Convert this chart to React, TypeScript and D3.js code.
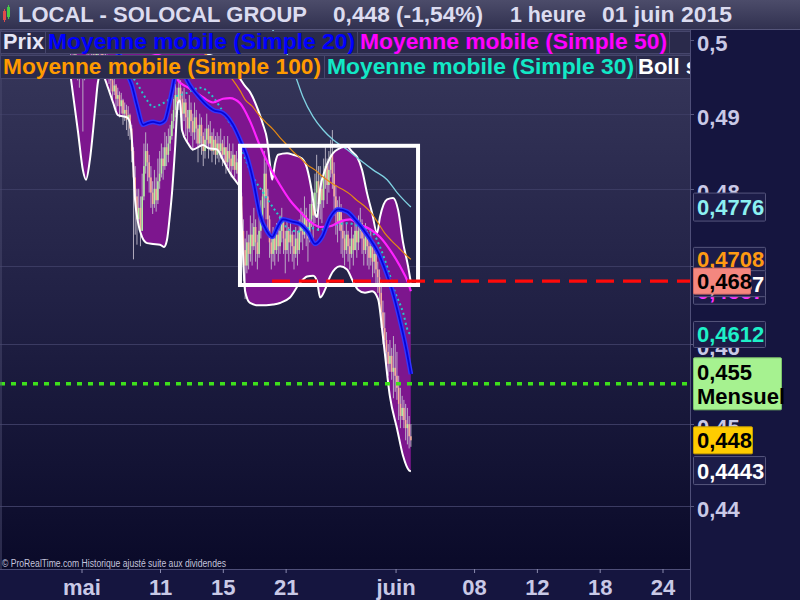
import React from "react";
import * as d3 from "d3";

// ---------------- data ----------------
// x is measured in trading days, 0 = first hourly bar of Monday 4 May 2015
const xTickDays = [0, 5, 9, 13, 20, 25, 29, 33, 37];
const xTickLabels = ["mai", "11", "15", "21", "juin", "08", "12", "18", "24"];
const yTickValues = [0.44, 0.45, 0.46, 0.47, 0.48, 0.49, 0.5];
const yTickLabels = ["0,44", "0,45", "0,46", "0,47", "0,48", "0,49", "0,5"];

const barsPerDay = 9;
const barsBeforeMay4 = 7;
const firstOpen = 0.4978;

// hourly bars, 30 April 11h -> 1 June 17h
const closes = [
  0.4975, 0.4968, 0.4980, 0.4972, 0.4960, 0.4955, 0.4965,
  0.4958, 0.4962, 0.4970, 0.4975, 0.4968, 0.4972, 0.4980, 0.4976, 0.4985,
  0.4982, 0.4990, 0.4978, 0.4970, 0.4975, 0.4965, 0.4955,
  0.4945, 0.4930, 0.4938, 0.4920, 0.4925, 0.4910, 0.4918, 0.4900, 0.4905, 0.4892, 0.4898,
  0.4880, 0.4850, 0.4815,
  0.4790, 0.4760, 0.4775, 0.4745, 0.4790,
  0.4830, 0.4850, 0.4835, 0.4815,
  0.4795, 0.4780, 0.4800, 0.4785, 0.4810, 0.4820,
  0.4840, 0.4830, 0.4855, 0.4845, 0.4860, 0.4870,
  0.4890, 0.4905, 0.4925, 0.4915, 0.4935,
  0.4920, 0.4900, 0.4915, 0.4895, 0.4880, 0.4905, 0.4890,
  0.4875, 0.4895, 0.4880, 0.4860, 0.4885, 0.4870, 0.4850, 0.4865,
  0.4880, 0.4860, 0.4870, 0.4850, 0.4865, 0.4845, 0.4860, 0.4850,
  0.4860, 0.4845, 0.4855, 0.4835, 0.4850, 0.4840, 0.4830, 0.4845, 0.4825, 0.4835, 0.4820,
  0.4790, 0.4745, 0.4720, 0.4700, 0.4730, 0.4715,
  0.4740, 0.4725, 0.4750, 0.4730, 0.4715, 0.4745, 0.4760,
  0.4790, 0.4820, 0.4790, 0.4760,
  0.4730, 0.4715, 0.4735, 0.4720, 0.4740, 0.4725,
  0.4745, 0.4760, 0.4735, 0.4720, 0.4745, 0.4730,
  0.4740, 0.4725, 0.4715, 0.4735, 0.4720, 0.4745,
  0.4755, 0.4740, 0.4765, 0.4750, 0.4735, 0.4760,
  0.4780, 0.4765, 0.4795, 0.4810, 0.4780,
  0.4800, 0.4785, 0.4815, 0.4830, 0.4805, 0.4825,
  0.4845, 0.4820, 0.4790,
  0.4770, 0.4755, 0.4775, 0.4745, 0.4735,
  0.4720, 0.4740, 0.4725, 0.4715, 0.4735, 0.4720, 0.4745, 0.4730,
  0.4745, 0.4755, 0.4735, 0.4720, 0.4740, 0.4725, 0.4710,
  0.4725, 0.4705, 0.4715, 0.4695, 0.4685,
  0.4665, 0.4640, 0.4620, 0.4605,
  0.4590, 0.4575, 0.4585, 0.4565,
  0.4570, 0.4560, 0.4545,
  0.4525, 0.4510, 0.4520, 0.4505,
  0.4495, 0.4500, 0.4485, 0.4480,
];

const highs = [
  0.4985, 0.4980, 0.4990, 0.4982, 0.4975, 0.4968, 0.4975,
  0.4970, 0.4975, 0.4980, 0.4985, 0.4980, 0.4985, 0.4990, 0.4988, 0.4995,
  0.4995, 0.5000, 0.4995, 0.4985, 0.4985, 0.4980, 0.4970,
  0.4960, 0.4950, 0.4948, 0.4940, 0.4935, 0.4930, 0.4928, 0.4920, 0.4915, 0.4912, 0.4910,
  0.4900, 0.4885, 0.4855,
  0.4830, 0.4800, 0.4800, 0.4790, 0.4820,
  0.4860, 0.4875, 0.4860, 0.4845,
  0.4830, 0.4810, 0.4825, 0.4815, 0.4840, 0.4850,
  0.4860, 0.4855, 0.4875, 0.4870, 0.4880, 0.4885,
  0.4900, 0.4920, 0.4940, 0.4935, 0.4950,
  0.4945, 0.4930, 0.4935, 0.4920, 0.4905, 0.4925, 0.4915,
  0.4900, 0.4915, 0.4905, 0.4885, 0.4900, 0.4895, 0.4875, 0.4880,
  0.4900, 0.4885, 0.4890, 0.4875, 0.4880, 0.4870, 0.4875, 0.4870,
  0.4880, 0.4865, 0.4870, 0.4855, 0.4870, 0.4860, 0.4850, 0.4860, 0.4845, 0.4850, 0.4840,
  0.4825, 0.4795, 0.4760, 0.4735, 0.4745, 0.4740,
  0.4765, 0.4755, 0.4775, 0.4760, 0.4740, 0.4770, 0.4785,
  0.4800, 0.4850, 0.4835, 0.4800,
  0.4765, 0.4740, 0.4750, 0.4745, 0.4755, 0.4750,
  0.4765, 0.4775, 0.4760, 0.4745, 0.4760, 0.4750,
  0.4755, 0.4745, 0.4740, 0.4750, 0.4745, 0.4760,
  0.4775, 0.4770, 0.4790, 0.4775, 0.4760, 0.4780,
  0.4800, 0.4795, 0.4820, 0.4845, 0.4830,
  0.4830, 0.4815, 0.4840, 0.4855, 0.4840, 0.4850,
  0.4865, 0.4878, 0.4835,
  0.4805, 0.4785, 0.4790, 0.4780, 0.4760,
  0.4745, 0.4755, 0.4745, 0.4735, 0.4750, 0.4740, 0.4760, 0.4755,
  0.4765, 0.4775, 0.4760, 0.4745, 0.4755, 0.4745, 0.4735,
  0.4745, 0.4730, 0.4730, 0.4720, 0.4705,
  0.4695, 0.4680, 0.4655, 0.4640,
  0.4615, 0.4600, 0.4605, 0.4595,
  0.4610, 0.4600, 0.4590,
  0.4560, 0.4545, 0.4535, 0.4530,
  0.4525, 0.4520, 0.4510, 0.4500,
];

const lows = [
  0.4962, 0.4955, 0.4965, 0.4955, 0.4945, 0.4935, 0.4950,
  0.4876, 0.4945, 0.4955, 0.4962, 0.4958, 0.4960, 0.4968, 0.4965, 0.4972,
  0.4975, 0.4980, 0.4970, 0.4960, 0.4965, 0.4950, 0.4940,
  0.4930, 0.4918, 0.4925, 0.4905, 0.4910, 0.4895, 0.4900, 0.4885, 0.4890, 0.4878, 0.4870,
  0.4865, 0.4835, 0.4708,
  0.4740, 0.4727, 0.4750, 0.4725, 0.4760,
  0.4785, 0.4820, 0.4810, 0.4795,
  0.4775, 0.4767, 0.4775, 0.4770, 0.4780, 0.4800,
  0.4815, 0.4812, 0.4825, 0.4830, 0.4835, 0.4850,
  0.4865, 0.4880, 0.4895, 0.4900, 0.4905,
  0.4895, 0.4875, 0.4890, 0.4870, 0.4860, 0.4875, 0.4870,
  0.4850, 0.4865, 0.4860, 0.4835, 0.4855, 0.4845, 0.4830, 0.4840,
  0.4855, 0.4840, 0.4850, 0.4835, 0.4845, 0.4832, 0.4840, 0.4835,
  0.4840, 0.4830, 0.4835, 0.4820, 0.4830, 0.4825, 0.4815, 0.4825, 0.4815, 0.4820, 0.4810,
  0.4770, 0.4700, 0.4680, 0.4657, 0.4690, 0.4695,
  0.4705, 0.4700, 0.4720, 0.4705, 0.4695, 0.4710, 0.4735,
  0.4750, 0.4775, 0.4760, 0.4745,
  0.4710, 0.4695, 0.4705, 0.4700, 0.4715, 0.4705,
  0.4715, 0.4730, 0.4715, 0.4690, 0.4715, 0.4705,
  0.4715, 0.4705, 0.4695, 0.4710, 0.4700, 0.4715,
  0.4730, 0.4720, 0.4735, 0.4725, 0.4705, 0.4730,
  0.4750, 0.4735, 0.4755, 0.4770, 0.4745,
  0.4760, 0.4755, 0.4775, 0.4800, 0.4780, 0.4795,
  0.4815, 0.4800, 0.4765,
  0.4740, 0.4730, 0.4745, 0.4715, 0.4710,
  0.4700, 0.4715, 0.4705, 0.4695, 0.4710, 0.4700, 0.4720, 0.4710,
  0.4720, 0.4735, 0.4715, 0.4700, 0.4715, 0.4700, 0.4695,
  0.4700, 0.4685, 0.4690, 0.4675, 0.4665,
  0.4650, 0.4620, 0.4600, 0.4590,
  0.4570, 0.4560, 0.4565, 0.4555,
  0.4532, 0.4540, 0.4530,
  0.4505, 0.4495, 0.4505, 0.4495,
  0.4480, 0.4475, 0.4470, 0.4472,
];

// indicator lines: [bar index, value]
const upperBand = [
  [0, 0.4984], [11, 0.4998], [22.5, 0.4984], [34, 0.5005], [45.5, 0.501], [60, 0.4998],
  [74, 0.4984], [88.5, 0.497], [96, 0.4951], [100, 0.4937], [102.8, 0.4929], [107.4, 0.4905],
  [110.3, 0.4885], [112.6, 0.4865], [114.3, 0.4831], [115.5, 0.4812], [117.2, 0.4834],
  [118.9, 0.4845], [124, 0.4847], [127.5, 0.4845], [132.6, 0.484], [135.5, 0.4827],
  [138.4, 0.4794], [140.1, 0.4768], [141.2, 0.4763], [142.9, 0.4799], [145.8, 0.4825],
  [148.7, 0.4841], [151.6, 0.485], [158.4, 0.4856], [161.3, 0.4849], [164.2, 0.4842],
  [167, 0.4825], [169.9, 0.4794], [172.8, 0.4768], [175.6, 0.4742], [177.3, 0.4763],
  [181.4, 0.4786], [184.8, 0.4788], [187.7, 0.4772], [190.5, 0.473], [193.4, 0.4699], [195, 0.4678],
];
const lowerBand = [
  [0, 0.495], [4.2, 0.4876], [7, 0.4825], [8.8, 0.4812], [11, 0.4838], [14, 0.4905],
  [15.6, 0.4942], [17.4, 0.4955], [19, 0.495], [21.4, 0.4935], [24.3, 0.4915], [27.1, 0.4898],
  [32.3, 0.4895], [34, 0.4888], [35.1, 0.4865], [36.9, 0.4786], [38.6, 0.4756], [40.9, 0.4737],
  [43.8, 0.4729], [47.2, 0.4728], [51.2, 0.4727], [53.5, 0.4724], [55.2, 0.4733], [56.9, 0.4766],
  [58.1, 0.4795], [59.8, 0.4852], [61.5, 0.4915], [62.7, 0.4918], [63.8, 0.4878], [67.3, 0.486],
  [70.1, 0.4852], [75.9, 0.4858], [78.7, 0.4854], [83.9, 0.4852], [87.3, 0.4838], [91.3, 0.4821],
  [95.3, 0.4808], [97.1, 0.4802], [98.2, 0.4746], [100, 0.4667], [102.8, 0.4652], [107.4, 0.4649],
  [112, 0.4649], [116, 0.465], [120, 0.4652], [125.7, 0.4659], [131.5, 0.4678], [135.5, 0.4686],
  [139, 0.4687], [141.2, 0.468], [143, 0.4659], [145.8, 0.4669], [148.7, 0.4686], [154.4, 0.4699],
  [158.4, 0.4695], [161.3, 0.4682], [164.7, 0.4669], [168.7, 0.4665], [172.8, 0.4667],
  [176.2, 0.4657], [179, 0.4609], [183, 0.4534], [187.1, 0.4494], [190.5, 0.4461], [194, 0.4443], [195, 0.4442],
];
const sma20 = [
  [0, 0.4986], [16.8, 0.4993], [28.3, 0.4979], [32.9, 0.4951], [35.1, 0.4938], [38, 0.4911],
  [41.5, 0.4885], [43.8, 0.4887], [47.2, 0.4889], [51.2, 0.4887], [54.1, 0.4891], [55.8, 0.4905],
  [58.1, 0.4931], [60.4, 0.4955], [63.8, 0.496], [66.7, 0.4945], [74.1, 0.4921], [81.6, 0.4905],
  [87.3, 0.4901], [93, 0.4885], [97.1, 0.4865], [101.1, 0.4842], [104.5, 0.4812], [108.5, 0.4766],
  [112.6, 0.4744], [115.5, 0.4737], [118.4, 0.4749], [121.7, 0.476], [126.9, 0.4757], [131.5, 0.4754],
  [136.1, 0.4743], [140.1, 0.4728], [144.1, 0.4737], [148.7, 0.4762], [153.3, 0.4773], [158.4, 0.477],
  [163, 0.476], [167.6, 0.4747], [172.8, 0.473], [176.2, 0.4717], [180.2, 0.4695], [184.2, 0.4669],
  [188.8, 0.4629], [192.3, 0.4594], [195, 0.4562],
];
const sma50 = [
  [40, 0.4985], [57, 0.4972], [61.5, 0.4945], [66.7, 0.4936], [74.1, 0.4925], [81.6, 0.4915],
  [87.3, 0.492], [91.3, 0.4921], [97.1, 0.4914], [102.8, 0.489], [108.5, 0.4857], [114.3, 0.4828],
  [120, 0.4805], [125.7, 0.4785], [131.5, 0.477], [137.3, 0.4757], [143, 0.475], [148.7, 0.4751],
  [154.4, 0.4757], [160.1, 0.476], [165.9, 0.4753], [171.6, 0.4747], [177.3, 0.4737], [183.1, 0.472],
  [188.8, 0.4699], [193.4, 0.4678], [195, 0.4667],
];
const sma100 = [
  [74.1, 0.4986], [88.5, 0.4958], [93.1, 0.4945], [97.1, 0.4931], [100, 0.4919], [104, 0.491],
  [108, 0.4898], [112, 0.4888], [116, 0.4879], [120, 0.4868], [124, 0.4858], [128, 0.4848],
  [132, 0.484], [136, 0.4831], [140, 0.4825], [144, 0.4817], [148, 0.481], [152, 0.4804],
  [156, 0.4799], [160, 0.4793], [164, 0.4785], [168, 0.4778], [172, 0.4769], [176, 0.4756],
  [180, 0.4742], [184, 0.4732], [188, 0.4723], [192, 0.4714], [195, 0.4708],
];
const sma30 = [
  [30, 0.497], [32.9, 0.4958], [38, 0.4941], [43.8, 0.4918], [47.2, 0.4909], [52.9, 0.4914],
  [58.7, 0.4922], [65.5, 0.4927], [69.5, 0.4931], [74.1, 0.4935], [79.9, 0.4927], [85.6, 0.4909],
  [91.3, 0.4887], [95.3, 0.4874], [98.8, 0.4848], [104.5, 0.4816], [110.3, 0.4795], [118.3, 0.4768],
  [125.7, 0.4746], [131.5, 0.4744], [137.3, 0.4749], [143, 0.4746], [148.7, 0.4751], [158.4, 0.4755],
  [165.9, 0.475], [173.3, 0.4742], [177.3, 0.4724], [181.9, 0.4695], [185.9, 0.4666], [190.5, 0.464],
  [193.4, 0.4616], [195, 0.4612],
];
const longAverage = [
  [110, 0.503], [120, 0.4999], [125.7, 0.4972], [129.7, 0.4945], [133.2, 0.4922], [138.9, 0.4896],
  [144.7, 0.4878], [150.4, 0.4865], [158.4, 0.4852], [165.9, 0.4838], [173.3, 0.4825],
  [181.4, 0.4812], [187.1, 0.4795], [195, 0.4776],
];

const supportLevel = 0.468;
const supportFromDay = 12.1;
const monthlyPivot = 0.455;
const zoneFromDay = 10.06;
const zoneToDay = 21.4;
const zoneTop = 0.4857;
const zoneBottom = 0.4675;

const tagValues = [0.4776, 0.4708, 0.4667, 0.4687, 0.468, 0.4612, 0.455, 0.448, 0.4443];
const tagTexts = [["0,4776"], ["0,4708"], ["0,4667"], ["0,4687"], ["0,468"], ["0,4612"], ["0,455", "Mensuel"], ["0,448"], ["0,4443"]];

// ---------------- drawing ----------------
const W = 800;
const H = 600;
const PL = 0, PR = 690, PT = 30, PB = 569;
const FONT = "'Liberation Sans', Arial, Helvetica, sans-serif";

const tagStyles = [
  { fg: "#8cf0f2", bg: "#1c1c48", bd: "#55557c", w: 72, h: 28, dy: 0 },
  { fg: "#ff9a12", bg: "#1c1c48", bd: "#55557c", w: 72, h: 24, dy: 0 },
  { fg: "#ff33ff", bg: "#1c1c48", bd: "#55557c", w: 72, h: 26, dy: 0 },
  { fg: "#ffffff", bg: "#1c1c48", bd: "#55557c", w: 72, h: 26, dy: 8 },
  { fg: "#000000", bg: "#f4877f", bd: "#d06a64", w: 57, h: 26, dy: 0 },
  { fg: "#1ef0c8", bg: "#1c1c48", bd: "#55557c", w: 72, h: 26, dy: 0 },
  { fg: "#000000", bg: "#a6f290", bd: "#7cc46a", w: 88, h: 52, dy: 0 },
  { fg: "#000000", bg: "#ffcc00", bd: "#c9a000", w: 59, h: 27, dy: 0 },
  { fg: "#ffffff", bg: "#1c1c48", bd: "#55557c", w: 72, h: 28, dy: 0 },
];

export default function App() {
  const x = d3.scaleLinear().domain([0, 37]).range([82, 663]);
  const y = d3.scaleLog().domain([0.44, 0.5]).range([506, 40]);
  const barDay = (b: number) => (b - barsBeforeMay4 + 0.5) / barsPerDay;
  const bx = (b: number) => x(barDay(b));
  const step = bx(1) - bx(0);
  const curve = d3.curveMonotoneX;

  const line = d3.line<number[]>().x((d) => bx(d[0])).y((d) => y(d[1])).curve(curve);
  const aboveLower = d3.area<number[]>().x((d) => bx(d[0])).y0(0).y1((d) => y(d[1])).curve(curve);
  const belowUpper = d3.area<number[]>().x((d) => bx(d[0])).y0((d) => y(d[1])).y1(H).curve(curve);

  const candles = closes.map((c, i) => {
    const o = i === 0 ? firstOpen : closes[i - 1];
    const h = Math.max(highs[i] ?? c, o, c);
    const l = Math.min(lows[i] ?? c, o, c);
    return { i, o, c, h, l };
  });

  const bodyW = step * 0.9;

  return (
    <svg width={W} height={H} style={{ position: "absolute", left: 0, top: 0, display: "block" }}>
      <defs>
        <linearGradient id="bgGrad" x1="0" y1="0" x2="0" y2="1">
          <stop offset="0%" stopColor="#38385c" />
          <stop offset="50%" stopColor="#212145" />
          <stop offset="100%" stopColor="#0a0a29" />
        </linearGradient>
        <linearGradient id="hdrGrad" x1="0" y1="0" x2="0" y2="1">
          <stop offset="0%" stopColor="#4c4c6a" />
          <stop offset="100%" stopColor="#30304f" />
        </linearGradient>
        <clipPath id="plotClip">
          <rect x={PL} y={PT} width={PR - PL} height={PB - PT} />
        </clipPath>
        <clipPath id="bandClip">
          <path d={aboveLower(lowerBand) || ""} />
        </clipPath>
      </defs>

      {/* panels */}
      <rect x={0} y={0} width={W} height={H} fill="#15153f" />
      <rect x={PL} y={PT} width={PR - PL} height={PB - PT} fill="url(#bgGrad)" />

      {/* horizontal grid */}
      {yTickValues.map((v) => (
        <line key={v} x1={PL} x2={PR + 4} y1={Math.round(y(v)) + 0.5} y2={Math.round(y(v)) + 0.5} stroke="#3b3b62" strokeWidth={1} />
      ))}

      <g clipPath="url(#plotClip)">
        {/* Bollinger fill */}
        <g clipPath="url(#bandClip)">
          <path d={belowUpper(upperBand) || ""} fill="#7d168e" />
        </g>

        {/* candles */}
        {candles.map((d) => (
          <line key={"w" + d.i} x1={bx(d.i)} x2={bx(d.i)} y1={y(d.h)} y2={y(d.l)} stroke="#c2bccb" strokeWidth={1} opacity={0.9} />
        ))}
        {candles.map((d) => {
          const top = y(Math.max(d.o, d.c));
          const bot = y(Math.min(d.o, d.c));
          return (
            <rect
              key={"b" + d.i}
              x={bx(d.i) - bodyW / 2}
              y={top}
              width={bodyW}
              height={Math.max(1.5, bot - top)}
              fill={d.c >= d.o ? "#b2f0a2" : "#f5ae9c"}
            />
          );
        })}

        {/* band edges */}
        <path d={line(upperBand) || ""} fill="none" stroke="#ffffff" strokeWidth={2} />
        <path d={line(lowerBand) || ""} fill="none" stroke="#ffffff" strokeWidth={2} />

        {/* moving averages */}
        <path d={line(longAverage) || ""} fill="none" stroke="#7fd2e2" strokeWidth={1.3} />
        <path d={line(sma100) || ""} fill="none" stroke="#e68a12" strokeWidth={1.2} />
        <path d={line(sma30) || ""} fill="none" stroke="#22c8cc" strokeWidth={2} strokeDasharray="2 3" />
        <path d={line(sma50) || ""} fill="none" stroke="#ff22ff" strokeWidth={2.2} />
        <path d={line(sma20) || ""} fill="none" stroke="#3434ff" strokeWidth={4.6} />
        <path d={line(sma20) || ""} fill="none" stroke="#0606d6" strokeWidth={1.8} />

        {/* zone rectangle */}
        <rect
          x={x(zoneFromDay)}
          y={y(zoneTop)}
          width={x(zoneToDay) - x(zoneFromDay)}
          height={y(zoneBottom) - y(zoneTop)}
          fill="none"
          stroke="#ffffff"
          strokeWidth={4}
        />

        {/* support level */}
        <line x1={x(supportFromDay)} x2={PR} y1={y(supportLevel)} y2={y(supportLevel)} stroke="#ff0a0a" strokeWidth={3.2} strokeDasharray="18 9" />
        {/* monthly pivot */}
        <line x1={PL} x2={PR} y1={y(monthlyPivot)} y2={y(monthlyPivot)} stroke="#3ee01c" strokeWidth={3.5} strokeDasharray="5 6" />
      </g>

      {/* frame */}
      <line x1={PL + 1} x2={PL + 1} y1={PT} y2={PB} stroke="#4a4a6e" />
      <line x1={PL} x2={PR} y1={PB + 0.5} y2={PB + 0.5} stroke="#4e4e78" />
      <line x1={PR + 0.5} x2={PR + 0.5} y1={PT} y2={H} stroke="#4e4e78" />

      <text x={2} y={567} fill="#c4c4dc" fontSize={10} fontFamily={FONT} textLength={224} lengthAdjust="spacingAndGlyphs">
        © ProRealTime.com  Historique ajusté suite aux dividendes
      </text>

      {/* x axis */}
      {xTickDays.map((d, i) => (
        <g key={"xt" + d}>
          <line x1={x(d)} x2={x(d)} y1={PB} y2={PB + 4} stroke="#8a8aae" />
          <text x={x(d)} y={595} textAnchor="middle" fill="#c9c9e6" fontSize={22} fontWeight="bold" fontFamily={FONT}>
            {xTickLabels[i]}
          </text>
        </g>
      ))}

      {/* header */}
      <rect x={0} y={0} width={W} height={30} fill="url(#hdrGrad)" />
      <line x1={0} x2={W} y1={29.5} y2={29.5} stroke="#55557a" />
      <rect x={3} y={11} width={3} height={9} fill="#e04a4a" />
      <line x1={4.5} x2={4.5} y1={9} y2={22} stroke="#e04a4a" />
      <rect x={7} y={7} width={3} height={10} fill="#46c846" />
      <line x1={8.5} x2={8.5} y1={5} y2={19} stroke="#46c846" />
      <g fill="#dcdcf0" fontSize={22} fontWeight="bold" fontFamily={FONT}>
        <text x={18} y={22} textLength={289} lengthAdjust="spacingAndGlyphs">LOCAL - SOLOCAL GROUP</text>
        <text x={333} y={22} textLength={150} lengthAdjust="spacingAndGlyphs">0,448 (-1,54%)</text>
        <text x={510} y={22} textLength={76} lengthAdjust="spacingAndGlyphs">1 heure</text>
        <text x={602} y={22} textLength={130} lengthAdjust="spacingAndGlyphs">01 juin 2015</text>
      </g>

      {/* legend rows */}
      <g stroke="#46466c" strokeWidth={1} fill="#2a2a4b">
        <rect x={0.5} y={31.5} width={45} height={22} />
        <rect x={45.5} y={31.5} width={312} height={22} />
        <rect x={357.5} y={31.5} width={312} height={22} />
        <rect x={669.5} y={31.5} width={21} height={22} />
        <rect x={0.5} y={55.5} width={324} height={23} />
        <rect x={324.5} y={55.5} width={312} height={23} />
        <rect x={636.5} y={55.5} width={80} height={23} />
      </g>
      <g fontSize={22} fontWeight="bold" fontFamily={FONT}>
        <text x={3} y={49} fill="#e6e6f6" textLength={41} lengthAdjust="spacingAndGlyphs">Prix</text>
        <text x={48} y={49} fill="#0000ff" textLength={307} lengthAdjust="spacingAndGlyphs">Moyenne mobile (Simple 20)</text>
        <text x={360} y={49} fill="#ff00ff" textLength={307} lengthAdjust="spacingAndGlyphs">Moyenne mobile (Simple 50)</text>
        <text x={3} y={74} fill="#ff9a00" textLength={318} lengthAdjust="spacingAndGlyphs">Moyenne mobile (Simple 100)</text>
        <text x={327} y={74} fill="#12e8c6" textLength={307} lengthAdjust="spacingAndGlyphs">Moyenne mobile (Simple 30)</text>
        <text x={638} y={74} fill="#ffffff">Boll sup</text>
      </g>

      {/* right panel */}
      <rect x={PR + 1} y={PT + 1} width={W - PR - 1} height={H - PT - 1} fill="#15153f" />
      <line x1={PR + 0.5} x2={PR + 0.5} y1={PT} y2={H} stroke="#4e4e78" />
      {yTickValues.map((v) => (
        <line key={"rt" + v} x1={PR} x2={PR + 4} y1={Math.round(y(v)) + 0.5} y2={Math.round(y(v)) + 0.5} stroke="#5a5a82" />
      ))}
      {yTickValues.map((v, i) => (
        <text key={"yl" + v} x={697} y={y(v) + 11} fill="#c9c9e6" fontSize={22} fontWeight="bold" fontFamily={FONT}>
          {yTickLabels[i]}
        </text>
      ))}

      {/* price tags */}
      {tagValues.map((v, i) => {
        const s = tagStyles[i];
        const cy = y(v) + s.dy;
        const lines = tagTexts[i];
        return (
          <g key={"tag" + i}>
            <rect x={693.5} y={cy - s.h / 2} width={s.w} height={s.h} fill={s.bg} stroke={s.bd} strokeWidth={1} rx={1} />
            {lines.map((t, k) => (
              <text
                key={k}
                x={697}
                y={cy + 8 + (k - (lines.length - 1) / 2) * 24}
                fill={s.fg}
                fontSize={22}
                fontWeight="bold"
                fontFamily={FONT}
              >
                {t}
              </text>
            ))}
          </g>
        );
      })}
    </svg>
  );
}
